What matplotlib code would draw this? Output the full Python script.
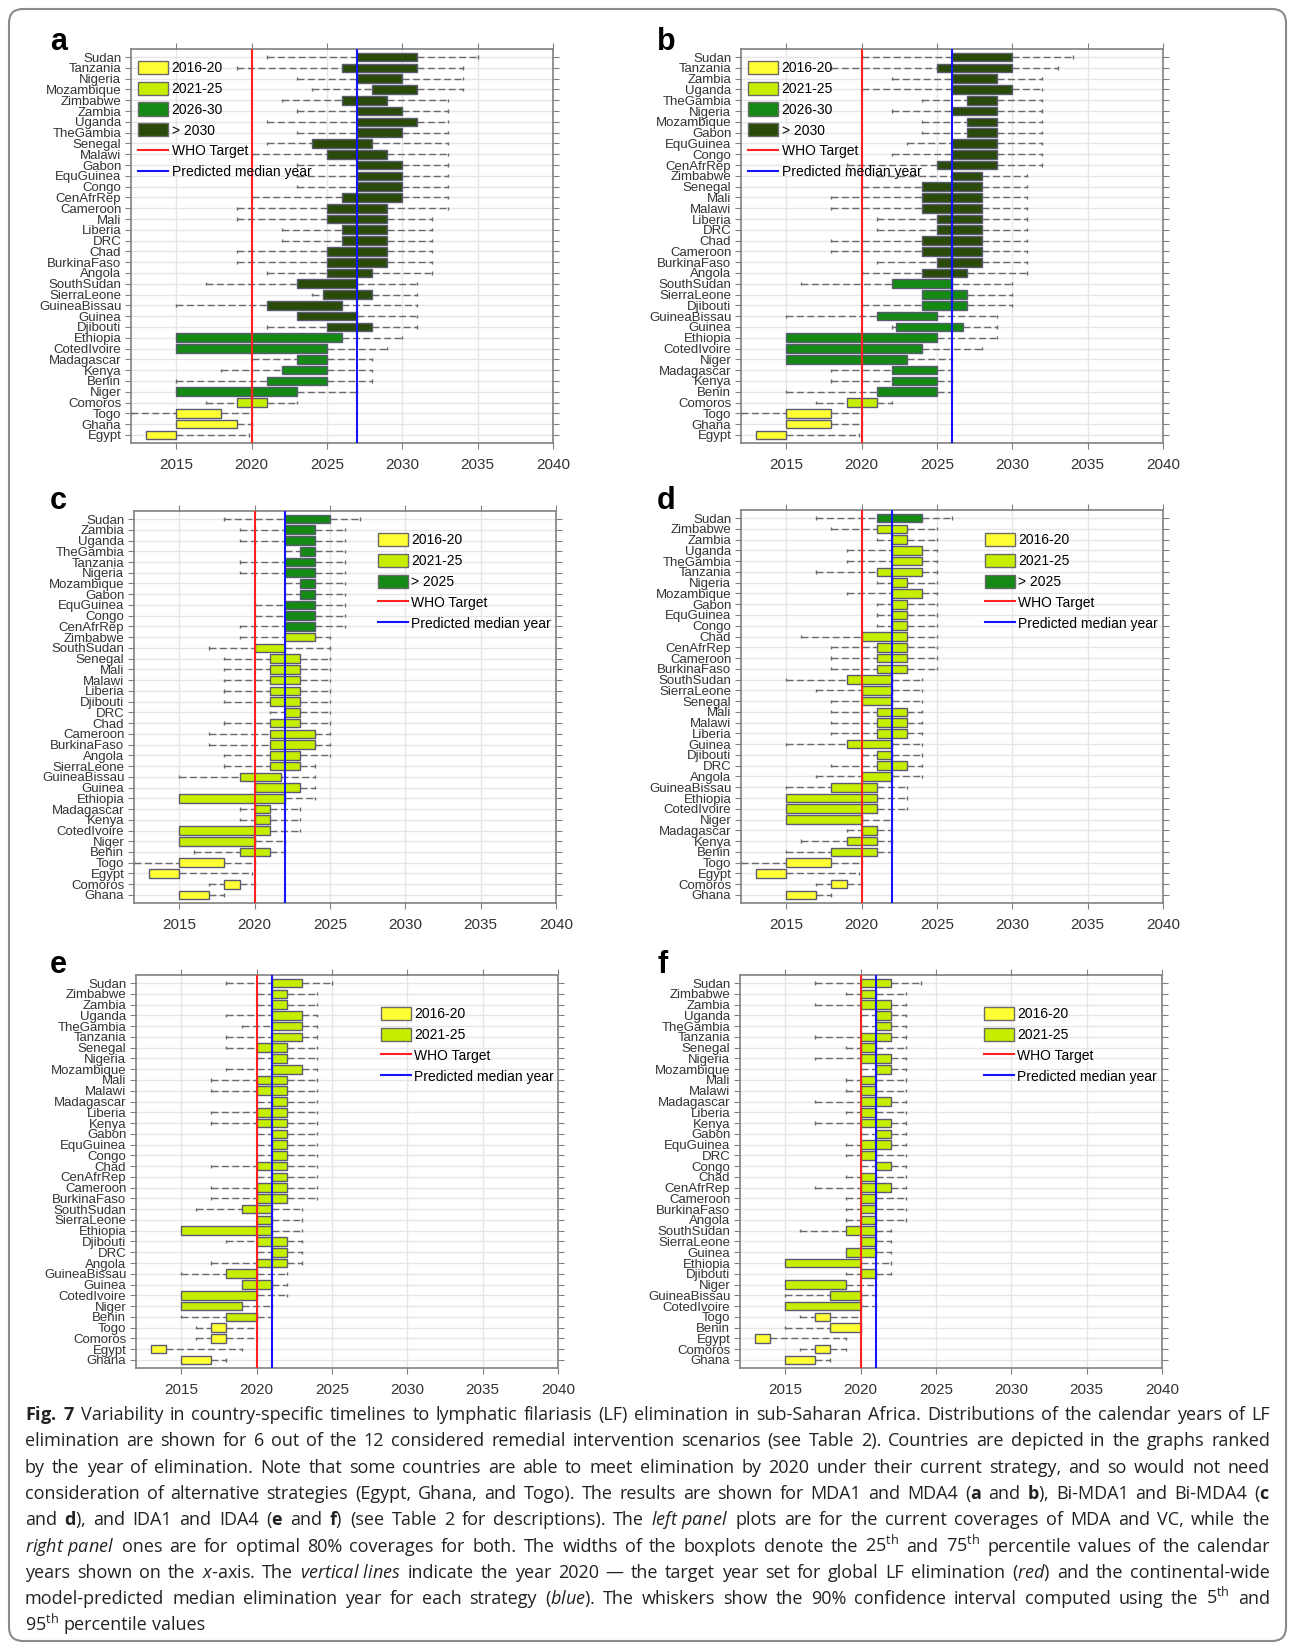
import matplotlib

matplotlib.use("Agg")
import matplotlib.pyplot as plt
import numpy as np
from matplotlib.lines import Line2D
from matplotlib.patches import FancyBboxPatch, Patch
from matplotlib.transforms import IdentityTransform

W, H = 1295, 1646

plt.rcParams["mathtext.fontset"] = "custom"
plt.rcParams["mathtext.rm"] = "Open Sans"
plt.rcParams["mathtext.it"] = "Open Sans:italic"
plt.rcParams["mathtext.bf"] = "Open Sans:bold"

WHO_TARGET = 2020
YELLOW, LIME, GREEN, DARK = "#FFFF33", "#C5EE00", "#148A14", "#2A4A0A"

# ---- panel a: MDA1, current coverage ----
a_countries = ["Sudan", "Tanzania", "Nigeria", "Mozambique", "Zimbabwe", "Zambia", "Uganda",
               "TheGambia", "Senegal", "Malawi", "Gabon", "EquGuinea", "Congo", "CenAfrRep",
               "Cameroon", "Mali", "Liberia", "DRC", "Chad", "BurkinaFaso", "Angola",
               "SouthSudan", "SierraLeone", "GuineaBissau", "Guinea", "Djibouti", "Ethiopia",
               "CotedIvoire", "Madagascar", "Kenya", "Benin", "Niger", "Comoros", "Togo",
               "Ghana", "Egypt"]
a_p5 = [2021, 2019, 2023, 2024, 2022, 2023, 2021, 2023, 2021, 2020, 2023, 2023, 2023, 2020,
        2019, 2019, 2022, 2022, 2019, 2019, 2021, 2017, 2024, 2015, 2023, 2021, 2015, 2015,
        2020, 2018, 2015, 2015, 2017, 2012, 2015, 2013]
a_p25 = [2027, 2026, 2027, 2028, 2026, 2027, 2027, 2027, 2024, 2025, 2027, 2027, 2027, 2026,
         2025, 2025, 2026, 2026, 2025, 2025, 2025, 2023, 2024.75, 2021, 2023, 2025, 2015,
         2015, 2023, 2022, 2021, 2015, 2019, 2015, 2015, 2013]
a_p75 = [2031, 2031, 2030, 2031, 2029, 2030, 2031, 2030, 2028, 2029, 2030, 2030, 2030, 2030,
         2029, 2029, 2029, 2029, 2029, 2029, 2028, 2027, 2028, 2026, 2027, 2028, 2026, 2025,
         2025, 2025, 2025, 2023, 2021, 2018, 2019, 2015]
a_p95 = [2035, 2034, 2034, 2034, 2033, 2033, 2033, 2033, 2033, 2033, 2033, 2033, 2033, 2033,
         2033, 2032, 2032, 2032, 2032, 2032, 2032, 2031, 2031, 2031, 2031, 2031, 2030, 2029,
         2028, 2028, 2028, 2027, 2023, 2020, 2020, 2019.8]
a_median = 2027

# ---- panel b: MDA4, 80% coverage ----
b_countries = ["Sudan", "Tanzania", "Zambia", "Uganda", "TheGambia", "Nigeria", "Mozambique",
               "Gabon", "EquGuinea", "Congo", "CenAfrRep", "Zimbabwe", "Senegal", "Mali",
               "Malawi", "Liberia", "DRC", "Chad", "Cameroon", "BurkinaFaso", "Angola",
               "SouthSudan", "SierraLeone", "Djibouti", "GuineaBissau", "Guinea", "Ethiopia",
               "CotedIvoire", "Niger", "Madagascar", "Kenya", "Benin", "Comoros", "Togo",
               "Ghana", "Egypt"]
b_p5 = [2020, 2018, 2022, 2020, 2024, 2022, 2024, 2024, 2023, 2022, 2019, 2021, 2020, 2018,
        2018, 2021, 2021, 2018, 2018, 2021, 2020, 2016, 2024, 2020, 2015, 2022, 2015, 2015,
        2015, 2018, 2018, 2015, 2017, 2012, 2015, 2013]
b_p25 = [2026, 2025, 2026, 2026, 2027, 2026, 2027, 2027, 2026, 2026, 2025, 2026, 2024, 2024,
         2024, 2025, 2025, 2024, 2024, 2025, 2024, 2022, 2024, 2024, 2021, 2022.3, 2015,
         2015, 2015, 2022, 2022, 2021, 2019, 2015, 2015, 2013]
b_p75 = [2030, 2030, 2029, 2030, 2029, 2029, 2029, 2029, 2029, 2029, 2029, 2028, 2028, 2028,
         2028, 2028, 2028, 2028, 2028, 2028, 2027, 2026, 2027, 2027, 2025, 2026.75, 2025,
         2024, 2023, 2025, 2025, 2025, 2021, 2018, 2018, 2015]
b_p95 = [2034, 2033, 2032, 2032, 2032, 2032, 2032, 2032, 2032, 2032, 2032, 2031, 2031, 2031,
         2031, 2031, 2031, 2031, 2031, 2031, 2031, 2030, 2030, 2030, 2029, 2029, 2029, 2028,
         2026, 2026, 2026, 2026, 2022, 2020, 2020, 2019.8]
b_median = 2026

# ---- panel c: Bi-MDA1, current coverage ----
c_countries = ["Sudan", "Zambia", "Uganda", "TheGambia", "Tanzania", "Nigeria", "Mozambique",
               "Gabon", "EquGuinea", "Congo", "CenAfrRep", "Zimbabwe", "SouthSudan", "Senegal",
               "Mali", "Malawi", "Liberia", "Djibouti", "DRC", "Chad", "Cameroon",
               "BurkinaFaso", "Angola", "SierraLeone", "GuineaBissau", "Guinea", "Ethiopia",
               "Madagascar", "Kenya", "CotedIvoire", "Niger", "Benin", "Togo", "Egypt",
               "Comoros", "Ghana"]
c_p5 = [2018, 2019, 2019, 2022, 2019, 2019, 2022, 2022, 2020, 2020, 2019, 2019, 2017, 2018,
        2018, 2018, 2018, 2018, 2021, 2018, 2017, 2017, 2018, 2018, 2015, 2020, 2015, 2019,
        2019, 2015, 2015, 2016, 2012, 2013, 2017, 2015]
c_p25 = [2022, 2022, 2022, 2023, 2022, 2022, 2023, 2023, 2022, 2022, 2022, 2022, 2020, 2021,
         2021, 2021, 2021, 2021, 2022, 2021, 2021, 2021, 2021, 2021, 2019, 2020, 2015, 2020,
         2020, 2015, 2015, 2019, 2015, 2013, 2018, 2015]
c_p75 = [2025, 2024, 2024, 2024, 2024, 2024, 2024, 2024, 2024, 2024, 2024, 2024, 2022, 2023,
         2023, 2023, 2023, 2023, 2023, 2023, 2024, 2024, 2023, 2023, 2021.75, 2023, 2022,
         2021, 2021, 2021, 2020, 2021, 2018, 2015, 2019, 2017]
c_p95 = [2027, 2026, 2026, 2026, 2026, 2026, 2026, 2026, 2026, 2026, 2026, 2025, 2025, 2025,
         2025, 2025, 2025, 2025, 2025, 2025, 2025, 2025, 2025, 2024, 2024, 2024, 2024, 2023,
         2023, 2023, 2022, 2022, 2020, 2019.8, 2020, 2018]
c_median = 2022

# ---- panel d: Bi-MDA4, 80% coverage ----
d_countries = ["Sudan", "Zimbabwe", "Zambia", "Uganda", "TheGambia", "Tanzania", "Nigeria",
               "Mozambique", "Gabon", "EquGuinea", "Congo", "Chad", "CenAfrRep", "Cameroon",
               "BurkinaFaso", "SouthSudan", "SierraLeone", "Senegal", "Mali", "Malawi",
               "Liberia", "Guinea", "Djibouti", "DRC", "Angola", "GuineaBissau", "Ethiopia",
               "CotedIvoire", "Niger", "Madagascar", "Kenya", "Benin", "Togo", "Egypt",
               "Comoros", "Ghana"]
d_p5 = [2017, 2018, 2021, 2019, 2019, 2017, 2021, 2019, 2021, 2021, 2021, 2016, 2018, 2018,
        2018, 2015, 2017, 2018, 2018, 2018, 2018, 2015, 2020, 2018, 2017, 2015, 2015, 2015,
        2015, 2019, 2016, 2015, 2012, 2013, 2017, 2015]
d_p25 = [2021, 2021, 2022, 2022, 2022, 2021, 2022, 2022, 2022, 2022, 2022, 2020, 2021, 2021,
         2021, 2019, 2020, 2020, 2021, 2021, 2021, 2019, 2021, 2021, 2020, 2018, 2015, 2015,
         2015, 2020, 2019, 2018, 2015, 2013, 2018, 2015]
d_p75 = [2024, 2023, 2023, 2024, 2024, 2024, 2023, 2024, 2023, 2023, 2023, 2023, 2023, 2023,
         2023, 2022, 2022, 2022, 2023, 2023, 2023, 2022, 2022, 2023, 2022, 2021, 2021, 2021,
         2020, 2021, 2021, 2021, 2018, 2015, 2019, 2017]
d_p95 = [2026, 2025, 2025, 2025, 2025, 2025, 2025, 2025, 2025, 2025, 2025, 2025, 2025, 2025,
         2025, 2024, 2024, 2024, 2024, 2024, 2024, 2024, 2024, 2024, 2024, 2023, 2023, 2023,
         2022, 2022, 2022, 2022, 2020, 2019.8, 2020, 2018]
d_median = 2022

# ---- panel e: IDA1, current coverage ----
e_countries = ["Sudan", "Zimbabwe", "Zambia", "Uganda", "TheGambia", "Tanzania", "Senegal",
               "Nigeria", "Mozambique", "Mali", "Malawi", "Madagascar", "Liberia", "Kenya",
               "Gabon", "EquGuinea", "Congo", "Chad", "CenAfrRep", "Cameroon", "BurkinaFaso",
               "SouthSudan", "SierraLeone", "Ethiopia", "Djibouti", "DRC", "Angola",
               "GuineaBissau", "Guinea", "CotedIvoire", "Niger", "Benin", "Togo", "Comoros",
               "Egypt", "Ghana"]
e_p5 = [2018, 2020, 2020, 2018, 2019, 2018, 2018, 2020, 2018, 2017, 2017, 2020, 2017, 2017,
        2020, 2020, 2020, 2017, 2020, 2017, 2017, 2016, 2020, 2015, 2018, 2020, 2017, 2015,
        2019, 2015, 2015, 2015, 2016, 2016, 2013, 2015]
e_p25 = [2021, 2021, 2021, 2021, 2021, 2021, 2020, 2021, 2021, 2020, 2020, 2021, 2020, 2020,
         2021, 2021, 2021, 2020, 2021, 2020, 2020, 2019, 2020, 2015, 2020, 2021, 2020, 2018,
         2019, 2015, 2015, 2018, 2017, 2017, 2013, 2015]
e_p75 = [2023, 2022, 2022, 2023, 2023, 2023, 2022, 2022, 2023, 2022, 2022, 2022, 2022, 2022,
         2022, 2022, 2022, 2022, 2022, 2022, 2022, 2021, 2021, 2021, 2022, 2022, 2022, 2020,
         2021, 2020, 2019, 2020, 2018, 2018, 2014, 2017]
e_p95 = [2025, 2024, 2024, 2024, 2024, 2024, 2024, 2024, 2024, 2024, 2024, 2024, 2024, 2024,
         2024, 2024, 2024, 2024, 2024, 2024, 2024, 2023, 2023, 2023, 2023, 2023, 2023, 2022,
         2022, 2022, 2021, 2021, 2020, 2020, 2019, 2018]
e_median = 2021

# ---- panel f: IDA4, 80% coverage ----
f_countries = ["Sudan", "Zimbabwe", "Zambia", "Uganda", "TheGambia", "Tanzania", "Senegal",
               "Nigeria", "Mozambique", "Mali", "Malawi", "Madagascar", "Liberia", "Kenya",
               "Gabon", "EquGuinea", "DRC", "Congo", "Chad", "CenAfrRep", "Cameroon",
               "BurkinaFaso", "Angola", "SouthSudan", "SierraLeone", "Guinea", "Ethiopia",
               "Djibouti", "Niger", "GuineaBissau", "CotedIvoire", "Togo", "Benin", "Egypt",
               "Comoros", "Ghana"]
f_p5 = [2017, 2019, 2017, 2020, 2020, 2017, 2019, 2017, 2020, 2019, 2019, 2017, 2019, 2017,
        2020, 2019, 2019, 2020, 2019, 2017, 2019, 2019, 2019, 2016, 2020, 2019, 2015, 2019,
        2015, 2015, 2015, 2016, 2015, 2013, 2016, 2015]
f_p25 = [2020, 2020, 2020, 2021, 2021, 2020, 2020, 2020, 2021, 2020, 2020, 2020, 2020, 2020,
         2021, 2020, 2020, 2021, 2020, 2020, 2020, 2020, 2020, 2019, 2020, 2019, 2015, 2020,
         2015, 2018, 2015, 2017, 2018, 2013, 2017, 2015]
f_p75 = [2022, 2021, 2022, 2022, 2022, 2022, 2021, 2022, 2022, 2021, 2021, 2022, 2021, 2022,
         2022, 2022, 2021, 2022, 2021, 2022, 2021, 2021, 2021, 2021, 2021, 2021, 2020, 2021,
         2019, 2020, 2020, 2018, 2020, 2014, 2018, 2017]
f_p95 = [2024, 2023, 2023, 2023, 2023, 2023, 2023, 2023, 2023, 2023, 2023, 2023, 2023, 2023,
         2023, 2023, 2023, 2023, 2023, 2023, 2023, 2023, 2023, 2022, 2022, 2022, 2022, 2022,
         2021, 2021, 2021, 2020, 2020, 2019, 2019, 2018]
f_median = 2021

# legend categories, their colours and class edges (by 95th percentile year)
cats_4 = ["2016-20", "2021-25", "2026-30", "> 2030"]
cats_3 = ["2016-20", "2021-25", "> 2025"]
cats_2 = ["2016-20", "2021-25"]
pal_4 = [YELLOW, LIME, GREEN, DARK]
pal_3 = [YELLOW, LIME, GREEN]
pal_2 = [YELLOW, LIME]
edges_4 = [2020, 2025, 2030]
edges_3 = [2020, 2025]
edges_2 = [2020]

panels = [
    ("a", a_countries, a_p5, a_p25, a_p75, a_p95, a_median, cats_4, pal_4, edges_4,
     (131, 49, 553, 443), (0.017, 0.970)),
    ("b", b_countries, b_p5, b_p25, b_p75, b_p95, b_median, cats_4, pal_4, edges_4,
     (741, 49, 1163, 443), (0.017, 0.970)),
    ("c", c_countries, c_p5, c_p25, c_p75, c_p95, c_median, cats_3, pal_3, edges_3,
     (134, 511, 556, 903), (0.578, 0.944)),
    ("d", d_countries, d_p5, d_p25, d_p75, d_p95, d_median, cats_3, pal_3, edges_3,
     (741, 510, 1163, 903), (0.578, 0.941)),
    ("e", e_countries, e_p5, e_p25, e_p75, e_p95, e_median, cats_2, pal_2, edges_2,
     (136, 975, 558, 1368), (0.580, 0.919)),
    ("f", f_countries, f_p5, f_p25, f_p75, f_p95, f_median, cats_2, pal_2, edges_2,
     (740, 975, 1162, 1368), (0.578, 0.919)),
]

fig = plt.figure(figsize=(W / 100, H / 100), dpi=100)

for letter, names, p5, p25, p75, p95, med, cats, pal, edges, box, leg_xy in panels:
    x0, y0, x1, y1 = box
    ax = fig.add_axes([x0 / W, 1 - y1 / H, (x1 - x0) / W, (y1 - y0) / H])
    n = len(names)
    y = np.arange(n)[::-1]
    p5, p25, p75, p95 = map(np.asarray, (p5, p25, p75, p95))
    cls = np.digitize(p95, edges, right=True)
    colors = [pal[k] for k in cls]

    ax.set_axisbelow(True)
    ax.grid(True, color="#E6E6E6", linewidth=1)
    ax.hlines(y, p5, p25, colors="#6a6a6a", linestyles=(0, (5, 2.5)), linewidth=1, zorder=2)
    ax.hlines(y, p75, p95, colors="#6a6a6a", linestyles=(0, (5, 2.5)), linewidth=1, zorder=2)
    lo = p5 < p25
    hi = p95 > p75
    ax.vlines(p5[lo], y[lo] - 0.15, y[lo] + 0.15, colors="#6a6a6a", linewidth=1, zorder=2)
    ax.vlines(p95[hi], y[hi] - 0.15, y[hi] + 0.15, colors="#6a6a6a", linewidth=1, zorder=2)
    ax.barh(y, p75 - p25, left=p25, height=0.8, color=colors, edgecolor="#5a5a72",
            linewidth=1, zorder=3)
    ax.axvline(WHO_TARGET, color="#FF2020", linewidth=1.5, zorder=4)
    ax.axvline(med, color="#1414FF", linewidth=1.5, zorder=4)

    ax.set_xlim(2012, 2040)
    ax.set_ylim(-0.75, n - 0.25)
    ax.set_xticks(np.arange(2015, 2041, 5))
    ax.set_yticks(y)
    ax.set_yticklabels(names, fontfamily="Liberation Sans", fontsize=9.5, color="#333333")
    for lab in ax.get_xticklabels():
        lab.set_fontfamily("Liberation Sans")
    ax.tick_params(axis="x", labelsize=11, labelcolor="#333333", pad=7)
    ax.tick_params(which="both", direction="out", length=4, color="#808080",
                   top=True, right=True, bottom=True, left=True)
    ax.tick_params(axis="y", pad=3)
    for sp in ax.spines.values():
        sp.set_color("#808080")
        sp.set_linewidth(1.2)

    handles = [Patch(facecolor=pal[i], edgecolor="#6a6a6a", linewidth=1)
               for i in range(len(cats))]
    handles += [Line2D([], [], color="#FF2020", linewidth=1.5),
                Line2D([], [], color="#1414FF", linewidth=1.5)]
    labels = cats + ["WHO Target", "Predicted median year"]
    ax.legend(handles, labels, loc="upper left", bbox_to_anchor=leg_xy, frameon=False,
              borderpad=0, borderaxespad=0, handlelength=2.15, handleheight=1.08,
              handletextpad=0.25, labelspacing=0.47,
              prop={"family": "Liberation Sans", "size": 10})

    lx = 50 if letter in "ace" else 657
    ly = {"a": 50, "b": 50, "c": 509, "d": 509, "e": 973, "f": 973}[letter]
    fig.text(lx / W, 1 - ly / H, letter, fontsize=22, fontweight="bold",
             fontfamily="Liberation Sans", va="baseline", ha="left")

caption = [
    r"$\mathbf{Fig.}$ $\mathbf{7}$ Variability in country-specific timelines to lymphatic filariasis (LF) elimination in sub-Saharan Africa. Distributions of the calendar years of LF",
    "elimination are shown for 6 out of the 12 considered remedial intervention scenarios (see Table 2). Countries are depicted in the graphs ranked",
    "by the year of elimination. Note that some countries are able to meet elimination by 2020 under their current strategy, and so would not need",
    r"consideration of alternative strategies (Egypt, Ghana, and Togo). The results are shown for MDA1 and MDA4 ($\mathbf{a}$ and $\mathbf{b}$), Bi-MDA1 and Bi-MDA4 ($\mathbf{c}$",
    r"and $\mathbf{d}$), and IDA1 and IDA4 ($\mathbf{e}$ and $\mathbf{f}$) (see Table 2 for descriptions). The $\mathit{left\ panel}$ plots are for the current coverages of MDA and VC, while the",
    r"$\mathit{right\ panel}$ ones are for optimal 80% coverages for both. The widths of the boxplots denote the 25$^{\mathrm{th}}$ and 75$^{\mathrm{th}}$ percentile values of the calendar",
    r"years shown on the $\mathit{x}$-axis. The $\mathit{vertical\ lines}$ indicate the year 2020 — the target year set for global LF elimination ($\mathit{red}$) and the continental-wide",
    r"model-predicted median elimination year for each strategy ($\mathit{blue}$). The whiskers show the 90% confidence interval computed using the 5$^{\mathrm{th}}$ and",
    r"95$^{\mathrm{th}}$ percentile values",
]


def split_words(s):
    # split on spaces that are not inside $...$
    words, cur, in_math = [], "", False
    for ch in s:
        if ch == "$":
            in_math = not in_math
        if ch == " " and not in_math:
            words.append(cur)
            cur = ""
        else:
            cur += ch
    words.append(cur)
    return words


# justified caption, word by word
renderer = fig.canvas.get_renderer()
cap_left, cap_right = 25, 1270
for i, line in enumerate(caption):
    yb = 1 - (1420 + i * 26.3) / H
    words = split_words(line)
    texts = [fig.text(0, yb, w, fontsize=13.0, fontfamily="Open Sans", color="#222222",
                      va="baseline", ha="left") for w in words]
    widths = [t.get_window_extent(renderer).width for t in texts]
    if i < len(caption) - 1:
        gap = (cap_right - cap_left - sum(widths)) / (len(words) - 1)
    else:
        gap = 4.8
    x = cap_left
    for t, wd in zip(texts, widths):
        t.set_x(x / W)
        x += wd + gap

border = FancyBboxPatch((9, 5), W - 18, H - 14, boxstyle="round,pad=0,rounding_size=14",
                        transform=IdentityTransform(), facecolor="none", edgecolor="#8a8a8a",
                        linewidth=1.5)
fig.patches.append(border)

fig.savefig("out.png", dpi=100)
